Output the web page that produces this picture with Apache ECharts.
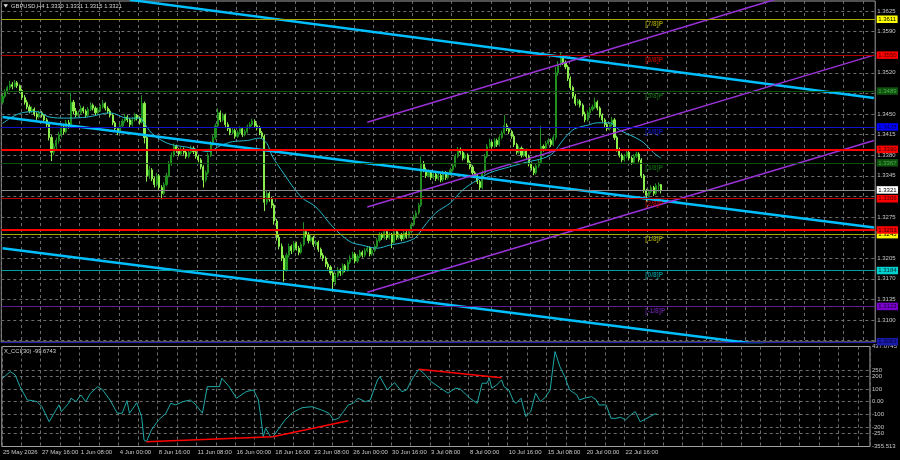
<!DOCTYPE html>
<html><head><meta charset="utf-8">
<script src="https://cdn.jsdelivr.net/npm/echarts@6/dist/echarts.min.js"></script>
<style>html,body{margin:0;padding:0;background:#000;}#c{width:900px;height:460px;}</style>
</head><body><div id="c"></div>
<script>
// ---------- data ----------
const symbolTitle = 'GBPUSD,H4 1.3330 1.3331 1.3315 1.3321';
const cciTitle = 'X_CCI(30) -99.6743';
const barCount = 357; // bar slots incl. empty right margin
const timeLabels = ['25 May 2026','27 May 16:00','1 Jun 08:00','4 Jun 00:00','8 Jun 16:00','11 Jun 08:00','16 Jun 00:00','18 Jun 16:00','23 Jun 08:00','26 Jun 00:00','30 Jun 16:00','3 Jul 08:00','8 Jul 00:00','10 Jul 16:00','15 Jul 08:00','20 Jul 00:00','22 Jul 16:00'];
// [open, high, low, close]
const ohlc = [
[1.3470,1.3484,1.3466,1.3480],[1.3480,1.3492,1.3477,1.3488],[1.3488,1.3498,1.3484,1.3495],[1.3495,1.3506,1.3491,1.3500],[1.3500,1.3504,1.3492,1.3497],
[1.3497,1.3508,1.3495,1.3503],[1.3503,1.3506,1.3494,1.3498],[1.3498,1.3500,1.3486,1.3490],[1.3490,1.3493,1.3474,1.3478],[1.3478,1.3482,1.3466,1.3470],
[1.3470,1.3474,1.3458,1.3462],[1.3462,1.3466,1.3451,1.3455],[1.3455,1.3463,1.3452,1.3458],[1.3458,1.3461,1.3446,1.3450],[1.3450,1.3453,1.3440,1.3445],
[1.3445,1.3456,1.3442,1.3452],[1.3452,1.3455,1.3444,1.3448],[1.3448,1.3450,1.3436,1.3440],[1.3440,1.3443,1.3428,1.3432],[1.3432,1.3435,1.3405,1.3410],
[1.3410,1.3414,1.3370,1.3385],[1.3385,1.3400,1.3380,1.3395],[1.3395,1.3410,1.3390,1.3405],[1.3405,1.3420,1.3400,1.3415],[1.3415,1.3432,1.3410,1.3428],
[1.3428,1.3431,1.3415,1.3420],[1.3420,1.3440,1.3417,1.3435],[1.3435,1.3440,1.3425,1.3430],[1.3430,1.3486,1.3428,1.3470],[1.3470,1.3474,1.3450,1.3455],
[1.3455,1.3460,1.3444,1.3448],[1.3448,1.3456,1.3444,1.3452],[1.3452,1.3465,1.3449,1.3460],[1.3460,1.3463,1.3451,1.3455],[1.3455,1.3458,1.3444,1.3448],
[1.3448,1.3462,1.3445,1.3458],[1.3458,1.3470,1.3455,1.3465],[1.3465,1.3468,1.3456,1.3460],[1.3460,1.3463,1.3448,1.3452],[1.3452,1.3461,1.3449,1.3457],
[1.3457,1.3466,1.3454,1.3462],[1.3462,1.3474,1.3459,1.3468],[1.3468,1.3470,1.3456,1.3460],[1.3460,1.3463,1.3451,1.3455],[1.3455,1.3458,1.3444,1.3448],
[1.3448,1.3451,1.3431,1.3435],[1.3435,1.3438,1.3421,1.3425],[1.3425,1.3428,1.3414,1.3420],[1.3420,1.3434,1.3417,1.3430],[1.3430,1.3442,1.3427,1.3438],
[1.3438,1.3450,1.3435,1.3445],[1.3445,1.3448,1.3436,1.3440],[1.3440,1.3443,1.3428,1.3432],[1.3432,1.3444,1.3429,1.3440],[1.3440,1.3452,1.3437,1.3448],
[1.3448,1.3450,1.3439,1.3443],[1.3443,1.3446,1.3432,1.3436],[1.3436,1.3482,1.3434,1.3468],[1.3468,1.3471,1.3400,1.3410],[1.3410,1.3414,1.3335,1.3345],
[1.3345,1.3362,1.3340,1.3355],[1.3355,1.3358,1.3336,1.3340],[1.3340,1.3344,1.3325,1.3330],[1.3330,1.3350,1.3327,1.3345],[1.3345,1.3348,1.3321,1.3325],
[1.3325,1.3329,1.3305,1.3315],[1.3315,1.3334,1.3312,1.3330],[1.3330,1.3350,1.3327,1.3345],[1.3345,1.3370,1.3342,1.3365],[1.3365,1.3385,1.3362,1.3380],
[1.3380,1.3400,1.3377,1.3395],[1.3395,1.3398,1.3384,1.3388],[1.3388,1.3392,1.3378,1.3382],[1.3382,1.3394,1.3379,1.3390],[1.3390,1.3393,1.3381,1.3385],
[1.3385,1.3388,1.3374,1.3378],[1.3378,1.3389,1.3375,1.3385],[1.3385,1.3396,1.3382,1.3392],[1.3392,1.3395,1.3382,1.3386],[1.3386,1.3389,1.3374,1.3378],
[1.3378,1.3381,1.3368,1.3372],[1.3372,1.3375,1.3356,1.3360],[1.3360,1.3363,1.3325,1.3338],[1.3338,1.3354,1.3334,1.3350],[1.3350,1.3384,1.3347,1.3380],
[1.3380,1.3404,1.3377,1.3400],[1.3400,1.3414,1.3396,1.3410],[1.3410,1.3434,1.3406,1.3430],[1.3430,1.3460,1.3427,1.3452],[1.3452,1.3456,1.3436,1.3440],
[1.3440,1.3452,1.3437,1.3448],[1.3448,1.3451,1.3428,1.3432],[1.3432,1.3436,1.3421,1.3425],[1.3425,1.3428,1.3414,1.3418],[1.3418,1.3426,1.3415,1.3422],
[1.3422,1.3425,1.3408,1.3412],[1.3412,1.3422,1.3409,1.3418],[1.3418,1.3429,1.3415,1.3425],[1.3425,1.3428,1.3411,1.3415],[1.3415,1.3424,1.3412,1.3420],
[1.3420,1.3432,1.3417,1.3428],[1.3428,1.3436,1.3425,1.3432],[1.3432,1.3442,1.3429,1.3438],[1.3438,1.3441,1.3427,1.3430],[1.3430,1.3434,1.3422,1.3426],
[1.3426,1.3430,1.3414,1.3418],[1.3418,1.3421,1.3408,1.3412],[1.3412,1.3415,1.3285,1.3300],[1.3300,1.3320,1.3296,1.3315],[1.3315,1.3318,1.3301,1.3305],
[1.3305,1.3309,1.3290,1.3295],[1.3295,1.3298,1.3262,1.3268],[1.3268,1.3272,1.3235,1.3240],[1.3240,1.3245,1.3220,1.3225],[1.3225,1.3230,1.3200,1.3205],
[1.3205,1.3210,1.3165,1.3185],[1.3185,1.3214,1.3182,1.3210],[1.3210,1.3230,1.3206,1.3225],[1.3225,1.3228,1.3212,1.3218],[1.3218,1.3234,1.3215,1.3230],
[1.3230,1.3233,1.3218,1.3222],[1.3222,1.3226,1.3210,1.3215],[1.3215,1.3232,1.3212,1.3228],[1.3228,1.3266,1.3225,1.3250],[1.3250,1.3254,1.3240,1.3245],
[1.3245,1.3249,1.3230,1.3235],[1.3235,1.3244,1.3232,1.3240],[1.3240,1.3243,1.3224,1.3228],[1.3228,1.3236,1.3225,1.3232],[1.3232,1.3235,1.3216,1.3220],
[1.3220,1.3223,1.3206,1.3210],[1.3210,1.3214,1.3200,1.3205],[1.3205,1.3208,1.3190,1.3195],[1.3195,1.3199,1.3186,1.3190],[1.3190,1.3193,1.3176,1.3180],
[1.3180,1.3183,1.3148,1.3165],[1.3165,1.3180,1.3160,1.3175],[1.3175,1.3190,1.3172,1.3185],[1.3185,1.3188,1.3175,1.3180],[1.3180,1.3196,1.3177,1.3192],
[1.3192,1.3195,1.3181,1.3185],[1.3185,1.3202,1.3182,1.3198],[1.3198,1.3210,1.3195,1.3205],[1.3205,1.3216,1.3202,1.3212],[1.3212,1.3215,1.3196,1.3200],
[1.3200,1.3212,1.3197,1.3208],[1.3208,1.3219,1.3205,1.3215],[1.3215,1.3218,1.3206,1.3210],[1.3210,1.3222,1.3207,1.3218],[1.3218,1.3226,1.3215,1.3222],
[1.3222,1.3225,1.3208,1.3212],[1.3212,1.3222,1.3209,1.3218],[1.3218,1.3229,1.3215,1.3225],[1.3225,1.3239,1.3222,1.3235],[1.3235,1.3249,1.3232,1.3245],
[1.3245,1.3248,1.3236,1.3240],[1.3240,1.3254,1.3237,1.3250],[1.3250,1.3253,1.3236,1.3240],[1.3240,1.3249,1.3237,1.3245],[1.3245,1.3248,1.3222,1.3232],
[1.3232,1.3256,1.3229,1.3250],[1.3250,1.3253,1.3236,1.3240],[1.3240,1.3249,1.3237,1.3245],[1.3245,1.3248,1.3234,1.3238],[1.3238,1.3252,1.3235,1.3248],
[1.3248,1.3251,1.3238,1.3242],[1.3242,1.3254,1.3239,1.3250],[1.3250,1.3266,1.3247,1.3262],[1.3262,1.3279,1.3259,1.3275],[1.3275,1.3286,1.3272,1.3282],
[1.3282,1.3299,1.3279,1.3295],[1.3295,1.3378,1.3292,1.3365],[1.3365,1.3370,1.3351,1.3355],[1.3355,1.3359,1.3341,1.3345],[1.3345,1.3356,1.3342,1.3352],
[1.3352,1.3355,1.3338,1.3342],[1.3342,1.3352,1.3339,1.3348],[1.3348,1.3351,1.3336,1.3340],[1.3340,1.3350,1.3337,1.3346],[1.3346,1.3349,1.3334,1.3338],
[1.3338,1.3354,1.3335,1.3350],[1.3350,1.3353,1.3338,1.3342],[1.3342,1.3352,1.3339,1.3348],[1.3348,1.3359,1.3345,1.3355],[1.3355,1.3366,1.3352,1.3362],
[1.3362,1.3382,1.3359,1.3378],[1.3378,1.3394,1.3375,1.3390],[1.3390,1.3393,1.3381,1.3385],[1.3385,1.3388,1.3371,1.3375],[1.3375,1.3384,1.3372,1.3380],
[1.3380,1.3383,1.3364,1.3368],[1.3368,1.3371,1.3356,1.3360],[1.3360,1.3363,1.3346,1.3350],[1.3350,1.3353,1.3341,1.3345],[1.3345,1.3348,1.3331,1.3335],
[1.3335,1.3338,1.3320,1.3325],[1.3325,1.3354,1.3322,1.3350],[1.3350,1.3382,1.3347,1.3378],[1.3378,1.3399,1.3375,1.3395],[1.3395,1.3408,1.3392,1.3402],
[1.3402,1.3405,1.3391,1.3395],[1.3395,1.3409,1.3392,1.3405],[1.3405,1.3408,1.3394,1.3398],[1.3398,1.3414,1.3395,1.3410],[1.3410,1.3422,1.3407,1.3418],
[1.3418,1.3448,1.3415,1.3430],[1.3430,1.3434,1.3421,1.3425],[1.3425,1.3428,1.3416,1.3420],[1.3420,1.3423,1.3408,1.3412],[1.3412,1.3415,1.3394,1.3398],
[1.3398,1.3401,1.3381,1.3385],[1.3385,1.3396,1.3382,1.3392],[1.3392,1.3395,1.3376,1.3380],[1.3380,1.3392,1.3377,1.3388],[1.3388,1.3391,1.3374,1.3378],
[1.3378,1.3381,1.3361,1.3365],[1.3365,1.3368,1.3354,1.3358],[1.3358,1.3361,1.3346,1.3350],[1.3350,1.3366,1.3347,1.3362],[1.3362,1.3372,1.3359,1.3368],
[1.3368,1.3430,1.3365,1.3395],[1.3395,1.3398,1.3386,1.3392],[1.3392,1.3404,1.3389,1.3400],[1.3400,1.3409,1.3397,1.3405],[1.3405,1.3408,1.3394,1.3398],
[1.3398,1.3414,1.3395,1.3410],[1.3410,1.3530,1.3405,1.3520],[1.3520,1.3540,1.3515,1.3535],[1.3535,1.3554,1.3530,1.3545],[1.3545,1.3549,1.3533,1.3538],
[1.3538,1.3541,1.3526,1.3530],[1.3530,1.3533,1.3506,1.3510],[1.3510,1.3514,1.3491,1.3495],[1.3495,1.3498,1.3476,1.3480],[1.3480,1.3484,1.3464,1.3468],
[1.3468,1.3476,1.3465,1.3472],[1.3472,1.3475,1.3461,1.3465],[1.3465,1.3468,1.3446,1.3450],[1.3450,1.3454,1.3436,1.3440],[1.3440,1.3456,1.3437,1.3452],
[1.3452,1.3462,1.3449,1.3458],[1.3458,1.3466,1.3455,1.3462],[1.3462,1.3478,1.3459,1.3470],[1.3470,1.3473,1.3456,1.3460],[1.3460,1.3463,1.3444,1.3448],
[1.3448,1.3451,1.3436,1.3440],[1.3440,1.3443,1.3428,1.3432],[1.3432,1.3435,1.3421,1.3425],[1.3425,1.3436,1.3422,1.3432],[1.3432,1.3445,1.3429,1.3440],
[1.3440,1.3443,1.3406,1.3410],[1.3410,1.3413,1.3386,1.3390],[1.3390,1.3393,1.3376,1.3380],[1.3380,1.3383,1.3368,1.3372],[1.3372,1.3382,1.3369,1.3378],
[1.3378,1.3389,1.3375,1.3385],[1.3385,1.3388,1.3371,1.3375],[1.3375,1.3378,1.3364,1.3368],[1.3368,1.3382,1.3365,1.3378],[1.3378,1.3386,1.3375,1.3382],
[1.3382,1.3385,1.3368,1.3372],[1.3372,1.3375,1.3341,1.3345],[1.3345,1.3348,1.3316,1.3320],[1.3320,1.3323,1.3300,1.3312],[1.3312,1.3322,1.3309,1.3318],
[1.3318,1.3329,1.3315,1.3325],[1.3325,1.3328,1.3311,1.3315],[1.3315,1.3332,1.3312,1.3328],[1.3328,1.3334,1.3318,1.3330],[1.3330,1.3331,1.3315,1.3321]
];
// moving average, read points [bar, price]
const maPoints = [[0,1.3434],[7,1.3451],[14,1.3454],[19,1.3445],[26,1.3443],[35,1.3445],[44,1.3452],[51,1.3443],[56,1.3443],[57,1.3440],[61,1.3417],[66,1.3403],[70,1.3397],[75,1.3394],[81,1.3388],[84,1.3386],[89,1.3396],[94,1.3403],[100,1.3405],[105,1.3409],[108,1.3400],[110,1.3380],[115,1.3348],[122,1.3309],[128,1.3292],[135,1.3258],[142,1.3233],[147,1.3227],[153,1.3222],[158,1.3227],[165,1.3233],[169,1.3241],[172,1.3258],[177,1.3282],[183,1.3299],[188,1.3321],[194,1.3338],[199,1.3350],[207,1.3360],[214,1.3368],[221,1.3375],[225,1.3384],[229,1.3406],[233,1.3423],[236,1.3428],[239,1.3431],[243,1.3435],[248,1.3435],[252,1.3423],[258,1.3411],[262,1.3401],[266,1.3384],[269,1.3375]];
// CCI(30), read points [bar, value]
const cciPoints = [[0,188],[3,238],[5,212],[7,119],[10,13],[12,8],[14,0],[16,-40],[19,-159],[21,-92],[23,-26],[24,-79],[27,-13],[28,27],[30,0],[32,53],[34,0],[36,67],[39,119],[41,93],[44,13],[47,-92],[49,-92],[51,8],[52,-92],[53,-66],[55,-8],[57,-119],[58,-304],[59,-317],[61,-225],[64,-145],[67,-92],[69,-13],[71,-26],[74,0],[77,13],[79,-18],[82,-92],[84,119],[89,119],[90,186],[93,119],[96,27],[100,79],[103,93],[105,13],[106,-119],[107,-278],[108,-211],[110,-278],[111,-278],[113,-225],[116,-145],[119,-87],[123,-48],[127,-40],[131,-66],[134,-92],[136,-145],[138,-132],[140,-79],[142,-26],[144,-13],[146,27],[149,0],[151,13],[154,172],[155,198],[158,93],[161,151],[164,79],[166,93],[168,172],[171,257],[173,225],[176,159],[180,106],[183,67],[186,106],[188,100],[192,27],[195,-13],[197,146],[199,146],[200,186],[201,106],[203,132],[205,172],[206,119],[208,93],[210,0],[211,-13],[213,27],[215,-119],[217,-79],[219,67],[221,0],[223,35],[225,93],[226,252],[227,397],[229,278],[231,198],[233,93],[236,53],[237,13],[239,27],[242,40],[244,13],[245,-26],[248,-26],[250,-132],[252,-132],[254,-124],[256,-145],[258,-106],[260,-79],[262,-159],[264,-140],[266,-119],[268,-98],[269,-99.6743]];
const priceMin = 1.30626, priceMax = 1.36420;
const priceTicks = [1.3065,1.3100,1.3135,1.3170,1.3205,1.3240,1.3275,1.3310,1.3345,1.3380,1.3415,1.3450,1.3485,1.3520,1.3555,1.3590,1.3625];
const priceLabels = [1.3625,1.3590,1.3520,1.3450,1.3415,1.3380,1.3345,1.3275,1.3205,1.3170,1.3135,1.3100];
const cciMin = -355.513, cciMax = 437.0745;
const cciTicks = [250,200,100,0,-100,-200,-250];
const cciLabels = [437.0745,250,200,100,0,-100,-200,-250,-355.513];
const murrayLevels = [1.3611,1.3550,1.3489,1.3428,1.3367,1.3306,1.3245,1.3184,1.3123,1.3063];
const murrayNames = ['[7/8]P','[6/8]P','[5/8]P','[4/8]P','[3/8]P','[2/8]P','[1/8]P','[0/8]P','[-1/8]P'];
const murrayLabelBar = 263;
const srLevels = [1.3390, 1.3253];
const lastPrice = 1.3321;
const cyanUpper = [[52,1.3644],[356,1.3477]];
const cyanMiddle = [[0,1.3445],[356,1.3257]];
const cyanLower = [[0,1.3222],[356,1.3034]];
const purpleUpper = [[149,1.3436],[316,1.3645]];
const purpleMiddle = [[149,1.3292],[356,1.3550]];
const purpleLower = [[149,1.3147],[356,1.3405]];
const cciDivLow = [[59,-317],[111,-278],[142,-151]];
const cciDivHigh = [[171,257],[205,190]];

// ---------- styles ----------
const FONT = 'Liberation Sans, Arial, sans-serif';
const murrayLine = ['#a8a800','#b00000','#0e520e','#1010c8','#0e520e','#b00000','#a8a800','#00a0a0','#5c1a94','#2424b0'];
const murrayBg   = ['#ffff00','#ff0000','#0e520e','#0000ff','#0e520e','#ff0000','#ffff00','#00d0d0','#7a00d0','#1a1aa8'];
const murrayFg   = ['#000000','#400000','#4fae4f','#000050','#4fae4f','#400000','#000000','#003030','#1a0030','#000040'];
const murrayText = ['#b4b400','#c80000','#137013','#1818d8','#137013','#c80000','#b4b400','#00a8a8','#7424b8'];

const boxLabel = (v, bg, fg) => ({show:true, position:'end', distance:1.5, backgroundColor:bg, color:fg,
  fontSize:6, fontFamily:FONT, padding:[1,1.5,0,1.5], lineHeight:6.5, formatter: () => v.toFixed(4)});
const levelData = [];
murrayLevels.forEach((v,i)=>levelData.push({yAxis:v, lineStyle:{color:murrayLine[i], width:1, type:'solid'}, label:boxLabel(v, murrayBg[i], murrayFg[i])}));
levelData.push({yAxis:lastPrice, lineStyle:{color:'#8a8a8a', width:1, type:'solid'}, label:boxLabel(lastPrice, '#ffffff','#000000')});
srLevels.forEach(v=>levelData.push({yAxis:v, lineStyle:{color:'#ff0000', width:2, type:'solid'}, label:boxLabel(v, '#ff0000','#300000')}));

const cats = Array.from({length: barCount}, (_, i) => String(i));
const gridLine = {show:true, interval:7, lineStyle:{color:'#6c6c6c', width:1, type:[3,3]}};
const hGridLine = {show:true, lineStyle:{color:'#6c6c6c', width:1, type:[3,3]}};
const axisText = {color:'#c8c8c8', fontSize:6, fontFamily:FONT};

const trend = (data, color, width, z) => ({type:'line', xAxisIndex:0, yAxisIndex:0, data, symbol:'none', clip:true,
  lineStyle:{color, width}, silent:true, z, animation:false});

const chart = echarts.init(document.getElementById('c'));
chart.setOption({
  backgroundColor:'#000000',
  animation:false,
  grid:[
    {left:1.3, right:24.8, top:1, height:341, show:true, borderColor:'#a0a0a0', borderWidth:1, backgroundColor:'transparent'},
    {left:1.3, right:24.8, top:346.5, height:100, show:true, borderColor:'#a0a0a0', borderWidth:1, backgroundColor:'transparent'}
  ],
  xAxis:[
    {type:'category', gridIndex:0, data:cats, boundaryGap:true, axisLine:{show:false}, axisTick:{show:false}, axisLabel:{show:false}, splitLine:gridLine},
    {type:'category', gridIndex:1, data:cats, boundaryGap:true, axisLine:{show:false}, axisTick:{show:false},
      axisLabel:Object.assign({show:true, interval:15, align:'left', margin:3,
        formatter:(val, idx) => (idx % 16 === 0 && timeLabels[idx/16]) ? timeLabels[idx/16] : ''}, axisText),
      splitLine:gridLine}
  ],
  yAxis:[
    {type:'value', gridIndex:0, position:'right', min:priceMin, max:priceMax, axisLine:{show:false},
      axisTick:{show:false, customValues:priceTicks},
      axisLabel:Object.assign({show:true, margin:2, customValues:priceLabels, formatter:v=>Number(v).toFixed(4)}, axisText),
      splitLine:hGridLine},
    {type:'value', gridIndex:1, position:'right', min:cciMin, max:cciMax, axisLine:{show:false},
      axisTick:{show:false, customValues:cciTicks},
      axisLabel:Object.assign({show:true, margin:2, customValues:cciLabels,
        formatter:v=> v===0 ? '0.00' : String(v)}, axisText),
      splitLine:hGridLine}
  ],
  series:[
    {type:'line', name:'levels', xAxisIndex:0, yAxisIndex:0, data:[[0,lastPrice]], symbol:'none', lineStyle:{width:0}, z:1, silent:true,
      markLine:{symbol:['none','none'], precision:4, silent:true, animation:false, data:levelData}},
    {type:'candlestick', name:'GBPUSD', xAxisIndex:0, yAxisIndex:0, z:2, barWidth:1.6, silent:true,
      data: ohlc.map(r => [r[0], r[3], r[2], r[1]]),
      itemStyle:{color:'#1f8f1f', color0:'#8cf04c', borderColor:'#1f8f1f', borderColor0:'#8cf04c', borderWidth:1}},
    {type:'line', name:'MA', xAxisIndex:0, yAxisIndex:0, data:maPoints, symbol:'none', smooth:0.35, z:3, silent:true,
      lineStyle:{color:'#25b8cc', width:1}},
    trend(cyanUpper, '#00bfff', 2.5, 4),
    trend(cyanMiddle, '#00bfff', 2.5, 4),
    trend(cyanLower, '#00bfff', 2.5, 4),
    trend(purpleUpper, '#9a32d8', 1.5, 4),
    trend(purpleMiddle, '#9a32d8', 1.5, 4),
    trend(purpleLower, '#9a32d8', 1.5, 4),
    {type:'scatter', xAxisIndex:0, yAxisIndex:0, symbol:'circle', symbolSize:0.1, itemStyle:{color:'rgba(0,0,0,0)'}, z:5, silent:true,
      data: murrayNames.map((n,i)=>({value:[murrayLabelBar, murrayLevels[i]], label:{color:murrayText[i]}})),
      label:{show:true, position:'right', distance:0, offset:[-1,5], fontSize:6.5, fontWeight:'bold', fontFamily:FONT,
        formatter:p=>murrayNames[p.dataIndex]}},
    {type:'line', name:'CCI', xAxisIndex:1, yAxisIndex:1, data:cciPoints, symbol:'none', z:3, silent:true,
      lineStyle:{color:'#1fa9a9', width:1}},
    {type:'line', xAxisIndex:1, yAxisIndex:1, data:cciDivLow, symbol:'none', z:4, silent:true, lineStyle:{color:'#ff0000', width:1.5}},
    {type:'line', xAxisIndex:1, yAxisIndex:1, data:cciDivHigh, symbol:'none', z:4, silent:true, lineStyle:{color:'#ff0000', width:1.5}}
  ],
  graphic:[
    {type:'polygon', shape:{points:[[3.5,4.3],[8,4.3],[5.75,7.6]]}, style:{fill:'#e6e6e6'}, z:100, silent:true},
    {type:'text', x:11, y:6.3, z:100, silent:true, style:{text:symbolTitle, fill:'#d6d6d6', fontSize:5.8, fontFamily:FONT, verticalAlign:'middle', textVerticalAlign:'middle'}},
    {type:'text', x:4, y:351, z:100, silent:true, style:{text:cciTitle, fill:'#d6d6d6', fontSize:5.8, fontFamily:FONT, verticalAlign:'middle', textVerticalAlign:'middle'}}
  ]
});
</script>
</body></html>
